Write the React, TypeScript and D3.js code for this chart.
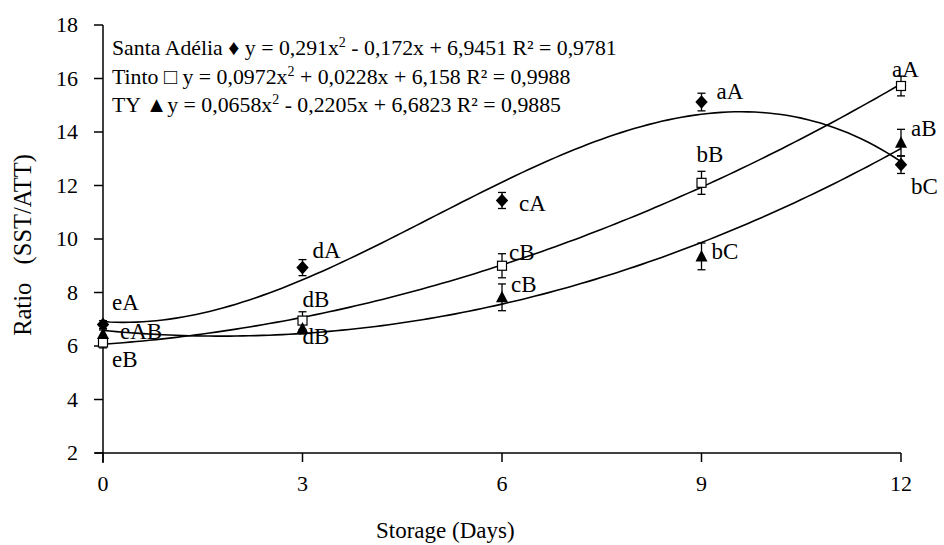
import React from "react";
import * as d3 from "d3";

const days = [0, 3, 6, 9, 12];
const santaAdelia = [6.8, 8.93, 11.44, 15.12, 12.78];
const santaAdeliaErr = [0.15, 0.3, 0.3, 0.33, 0.33];
const santaLabels = ["eA", "dA", "cA", "aA", "bC"];
const tinto = [6.13, 6.95, 9.0, 12.1, 15.72];
const tintoErr = [0.2, 0.33, 0.45, 0.43, 0.37];
const tintoLabels = ["eB", "dB", "cB", "bB", "aA"];
const ty = [6.45, 6.65, 7.82, 9.35, 13.6];
const tyErr = [0.15, 0.2, 0.5, 0.5, 0.5];
const tyLabels = ["eAB", "dB", "cB", "bC", "aB"];
const yTicks = [2, 4, 6, 8, 10, 12, 14, 16, 18];
const xTicks = [0, 3, 6, 9, 12];

// label offsets in px (dx, baseline dy relative to point)
const santaLabelOff = [[9, -15], [10, -10], [17, 11], [15, -3], [10, 29]];
const tintoLabelOff = [[9, 24], [0, -14], [7, -6], [-5, -21], [-9, -9]];
const tyLabelOff = [[17, 5], [0, 15], [9, -5], [10, 3], [10, -7]];

function polyFit(xs: number[], ys: number[], deg: number): number[] {
  const n = deg + 1;
  const A: number[][] = Array.from({ length: n }, () => new Array(n + 1).fill(0));
  for (let r = 0; r < n; r++) {
    for (let c = 0; c < n; c++) {
      A[r][c] = d3.sum(xs, (x) => Math.pow(x, r + c));
    }
    A[r][n] = d3.sum(xs, (x, i) => ys[i] * Math.pow(x, r));
  }
  for (let i = 0; i < n; i++) {
    let p = i;
    for (let k = i + 1; k < n; k++) if (Math.abs(A[k][i]) > Math.abs(A[p][i])) p = k;
    [A[i], A[p]] = [A[p], A[i]];
    for (let k = 0; k < n; k++) {
      if (k === i) continue;
      const f = A[k][i] / A[i][i];
      for (let c = i; c <= n; c++) A[k][c] -= f * A[i][c];
    }
  }
  return A.map((row, i) => row[n] / row[i]);
}

const W = 944, H = 545;
const x = d3.scaleLinear().domain([0, 12]).range([103, 901]);
const y = d3.scaleLinear().domain([2, 18]).range([453, 25]);
const FONT = "'Liberation Serif', 'Times New Roman', serif";

function curvePath(vals: number[], deg: number) {
  const coef = polyFit(days, vals, deg);
  const pts = d3.range(0, 12.0001, 0.1).map((t) => [t, coef.reduce((s, c, i) => s + c * Math.pow(t, i), 0)] as [number, number]);
  return d3.line<[number, number]>().x((d) => x(d[0])).y((d) => y(d[1])).curve(d3.curveLinear)(pts) || "";
}

const diamond = "M0,-6.8L6.2,0L0,6.8L-6.2,0Z";
const triangle = "M0,-6.5L6,5L-6,5Z";

function ErrBars({ vals, errs }: { vals: number[]; errs: number[] }) {
  return (
    <g stroke="#000" strokeWidth={1.3}>
      {days.map((d, i) => (
        <g key={i}>
          <line x1={x(d)} x2={x(d)} y1={y(vals[i] + errs[i])} y2={y(vals[i] - errs[i])} />
          <line x1={x(d) - 4} x2={x(d) + 4} y1={y(vals[i] + errs[i])} y2={y(vals[i] + errs[i])} />
          <line x1={x(d) - 4} x2={x(d) + 4} y1={y(vals[i] - errs[i])} y2={y(vals[i] - errs[i])} />
        </g>
      ))}
    </g>
  );
}

function Labels({ vals, labels, off }: { vals: number[]; labels: string[]; off: number[][] }) {
  return (
    <g fontFamily={FONT} fontSize={23} fill="#000">
      {days.map((d, i) => (
        <text key={i} x={x(d) + off[i][0]} y={y(vals[i]) + off[i][1]}>{labels[i]}</text>
      ))}
    </g>
  );
}

export default function App() {
  return (
    <svg width={W} height={H} style={{ position: "absolute", left: 0, top: 0, background: "#fff" }}>
      <rect width={W} height={H} fill="#fff" />
      {/* axes */}
      <g stroke="#000" strokeWidth={1.5}>
        <line x1={x(0)} x2={x(0)} y1={y(18)} y2={y(2) + 10} />
        <line x1={x(0) - 8} x2={x(12)} y1={y(2)} y2={y(2)} />
        {yTicks.map((t) => (
          <line key={t} x1={x(0) - 9} x2={x(0)} y1={y(t)} y2={y(t)} />
        ))}
        {xTicks.map((t) => (
          <line key={t} x1={x(t)} x2={x(t)} y1={y(2)} y2={y(2) + 9} />
        ))}
      </g>
      <g fontFamily={FONT} fontSize={22} fill="#000">
        {yTicks.map((t) => (
          <text key={t} x={x(0) - 25} y={y(t)} dy="0.33em" textAnchor="end">{t}</text>
        ))}
        {xTicks.map((t) => (
          <text key={t} x={x(t)} y={491} textAnchor="middle">{t}</text>
        ))}
        <text x={376} y={538} fontSize={23}>Storage (Days)</text>
        <text transform={`translate(31,245) rotate(-90)`} textAnchor="middle" fontSize={24.5} style={{ whiteSpace: "pre" }}>{"Ratio   (SST/ATT)"}</text>
      </g>
      {/* curves */}
      <g fill="none" stroke="#000" strokeWidth={1.6}>
        <path d={curvePath(santaAdelia, 3)} />
        <path d={curvePath(tinto, 2)} />
        <path d={curvePath(ty, 2)} />
      </g>
      <ErrBars vals={santaAdelia} errs={santaAdeliaErr} />
      <ErrBars vals={tinto} errs={tintoErr} />
      <ErrBars vals={ty} errs={tyErr} />
      {/* markers */}
      {days.map((d, i) => (
        <path key={"s" + i} d={diamond} transform={`translate(${x(d)},${y(santaAdelia[i])})`} fill="#000" />
      ))}
      {days.map((d, i) => (
        <rect key={"t" + i} x={x(d) - 4.5} y={y(tinto[i]) - 4.5} width={9} height={9} fill="#fff" stroke="#000" strokeWidth={1.2} />
      ))}
      {days.map((d, i) => (
        <path key={"y" + i} d={triangle} transform={`translate(${x(d)},${y(ty[i])})`} fill="#000" />
      ))}
      <Labels vals={santaAdelia} labels={santaLabels} off={santaLabelOff} />
      <Labels vals={tinto} labels={tintoLabels} off={tintoLabelOff} />
      <Labels vals={ty} labels={tyLabels} off={tyLabelOff} />
      {/* legend / equations */}
      <g fontFamily={FONT} fontSize={21.8} fill="#000">
        <text x={112} y={55}>
          Santa Adélia ♦ y = 0,291x<tspan dy={-8} fontSize={14}>2</tspan><tspan dy={8}> - 0,172x + 6,9451 R² = 0,9781</tspan>
        </text>
        <text x={112} y={84}>
          Tinto □ y = 0,0972x<tspan dy={-8} fontSize={14}>2</tspan><tspan dy={8}> + 0,0228x + 6,158 R² = 0,9988</tspan>
        </text>
        <text x={112} y={112}>
          TY ▲y = 0,0658x<tspan dy={-8} fontSize={14}>2</tspan><tspan dy={8}> - 0,2205x + 6,6823 R² = 0,9885</tspan>
        </text>
      </g>
    </svg>
  );
}
